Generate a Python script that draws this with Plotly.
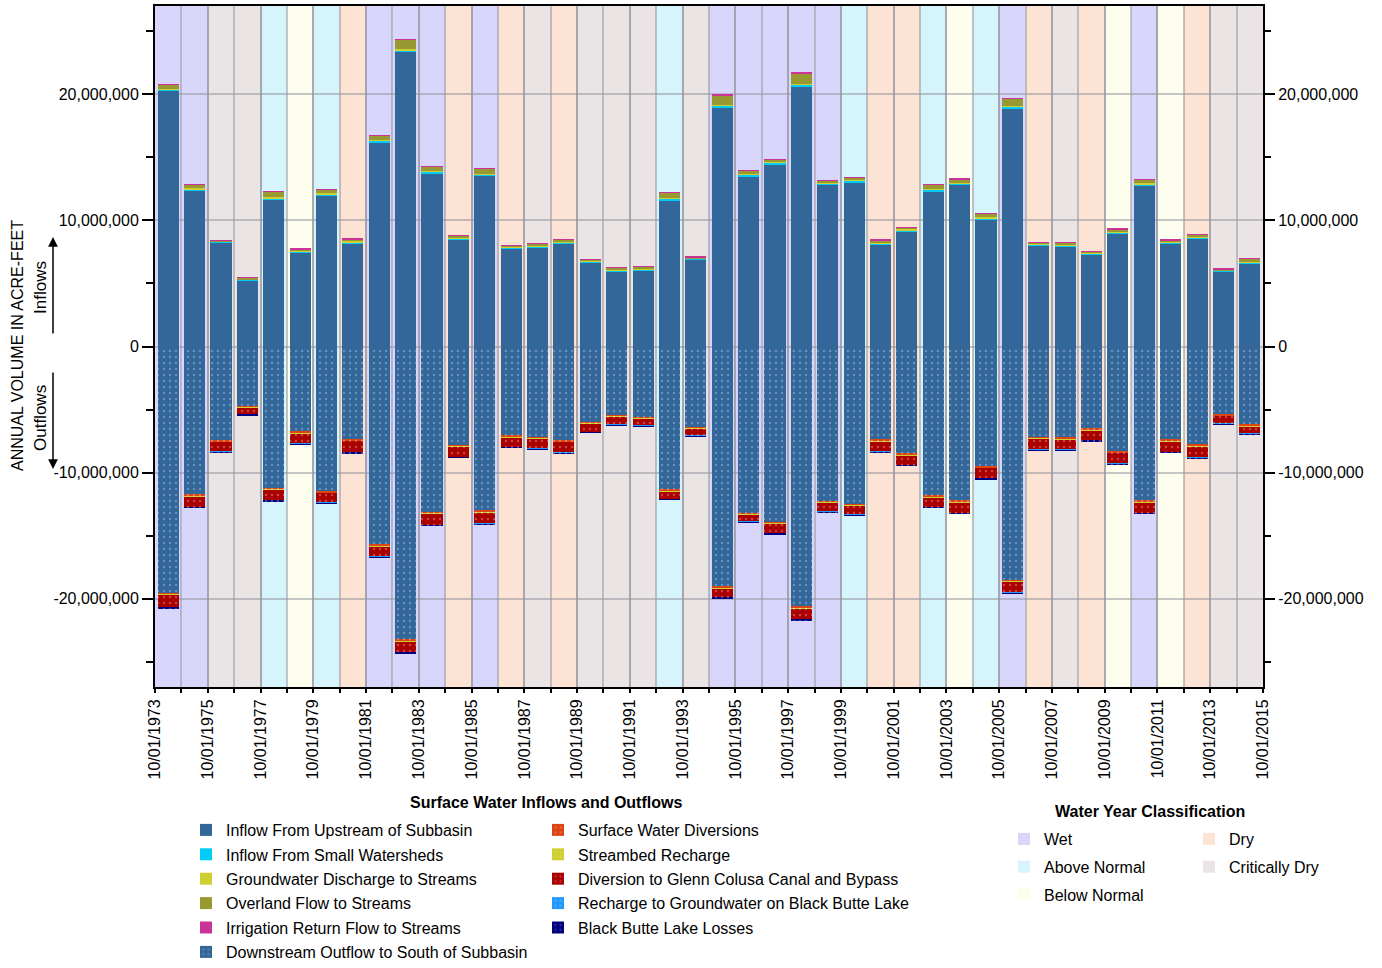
import plotly.graph_objects as go

# ---------------- data (million acre-feet) ----------------
years = list(range(1973, 2015))
classification = ["W", "W", "C", "C", "AN", "BN", "AN", "D", "W", "W", "W", "D", "W", "D", "C",
                  "D", "C", "C", "C", "AN", "C", "W", "W", "W", "W", "W", "AN", "D", "D", "AN",
                  "BN", "AN", "W", "D", "C", "D", "BN", "W", "BN", "D", "C", "C"]

inflow_upstream = [20.26, 12.38, 8.25, 5.24, 11.64, 7.46, 11.98, 8.20, 16.20, 23.36, 13.73, 8.52, 13.52, 7.80,
                   7.88, 8.20, 6.69, 5.98, 6.03, 11.59, 6.90, 18.94, 13.49, 14.44, 20.60, 12.86, 13.04, 8.06,
                   9.15, 12.30, 12.83, 10.05, 18.86, 8.02, 7.96, 7.27, 8.94, 12.75, 8.15, 8.57, 5.93, 6.56]
inflow_small_ws = [0.12, 0.10, 0.05, 0.05, 0.12, 0.08, 0.10, 0.08, 0.12, 0.15, 0.12, 0.08, 0.12, 0.06,
                   0.06, 0.07, 0.06, 0.06, 0.06, 0.12, 0.05, 0.15, 0.12, 0.12, 0.15, 0.10, 0.10, 0.08,
                   0.08, 0.12, 0.10, 0.12, 0.15, 0.06, 0.07, 0.07, 0.09, 0.12, 0.08, 0.08, 0.06, 0.10]
gw_discharge = [0.06, 0.06, 0.05, 0.05, 0.06, 0.05, 0.06, 0.05, 0.06, 0.06, 0.06, 0.05, 0.06, 0.05,
                0.05, 0.05, 0.05, 0.05, 0.05, 0.06, 0.05, 0.06, 0.06, 0.06, 0.06, 0.05, 0.05, 0.05,
                0.05, 0.06, 0.06, 0.06, 0.06, 0.05, 0.05, 0.05, 0.05, 0.06, 0.05, 0.05, 0.05, 0.06]
overland_flow = [0.31, 0.30, 0.08, 0.10, 0.44, 0.14, 0.30, 0.19, 0.35, 0.75, 0.33, 0.14, 0.38, 0.11,
                 0.14, 0.15, 0.11, 0.16, 0.22, 0.41, 0.09, 0.78, 0.28, 0.23, 0.87, 0.14, 0.23, 0.25,
                 0.17, 0.33, 0.29, 0.33, 0.57, 0.13, 0.18, 0.16, 0.23, 0.30, 0.16, 0.17, 0.10, 0.28]
irrigation_return = [0.015] * 42

outflow_downstream = [-19.58, -11.77, -7.46, -4.74, -11.24, -6.77, -11.50, -7.38, -15.71, -23.25, -13.15, -7.83,
                      -13.02, -7.09, -7.20, -7.46, -6.01, -5.45, -5.61, -11.35, -6.40, -19.05, -13.23, -13.94,
                      -20.63, -12.27, -12.49, -7.41, -8.52, -11.83, -12.22, -9.52, -18.52, -7.20, -7.25, -6.53,
                      -8.33, -12.22, -7.41, -7.80, -5.40, -6.22]
sw_diversions = [-0.12] * 42
streambed_recharge = [-0.03] * 42
gcc_diversion = [-0.98, -0.82, -0.74, -0.50, -0.82, -0.80, -0.75, -0.88, -0.83, -0.88, -0.87, -0.79, -0.90, -0.74,
                 -0.76, -0.82, -0.63, -0.61, -0.53, -0.61, -0.53, -0.71, -0.53, -0.72, -0.86, -0.69, -0.71, -0.79,
                 -0.74, -0.76, -0.85, -0.80, -0.87, -0.84, -0.79, -0.77, -0.83, -0.85, -0.82, -0.88, -0.58, -0.55]
bb_recharge = [-0.02] * 42
bb_losses = [-0.04] * 42

y_tick_values = [-20, -10, 0, 10, 20]
y_tick_labels = ["-20,000,000", "-10,000,000", "0", "10,000,000", "20,000,000"]
x_tick_labels = ["10/01/%d" % y for y in range(1973, 2016, 2)]

class_names = {"W": "Wet", "AN": "Above Normal", "BN": "Below Normal", "D": "Dry", "C": "Critically Dry"}
class_colors = {"W": "#d8d7fb", "AN": "#d6f4fb", "BN": "#fefeee", "D": "#fde3d3", "C": "#ebe4e4"}

# ---------------- figure ----------------
M = 1e6
xc = [i + 0.5 for i in range(len(years))]
FONT = "Liberation Sans, Arial, sans-serif"
TICKFONT = dict(family=FONT, size=16, color="black")
LEGFONT = dict(family=FONT, size=16, color="black")

# plot-area pixel geometry used to place legends/annotations
PL, PR, PT, PB = 155, 1263, 6, 687
def px(xp):
    return (xp - PL) / (PR - PL)
def py(yp):
    return (PB - yp) / (PB - PT)

fig = go.Figure()

def add_bar(name, vals, color, legend, dotted=False, dotcolor="rgba(255,255,255,0.55)"):
    kw = dict(x=xc, y=[v * M for v in vals], name=name, legend=legend, legendgroup=name, width=0.8,
              marker=dict(color=color, line=dict(width=0)))
    if dotted:
        kw["marker"]["pattern"] = dict(shape=".", fgcolor=dotcolor, size=6, solidity=0.12)
    fig.add_trace(go.Bar(**kw))

add_bar("Inflow From Upstream of Subbasin", inflow_upstream, "#336699", "legend")
add_bar("Inflow From Small Watersheds", inflow_small_ws, "#00ccf5", "legend")
add_bar("Groundwater Discharge to Streams", gw_discharge, "#cfcf33", "legend")
add_bar("Overland Flow to Streams", overland_flow, "#999933", "legend")
add_bar("Irrigation Return Flow to Streams", irrigation_return, "#cc3399", "legend")
add_bar("Downstream Outflow to South of Subbasin", outflow_downstream, "#336699", "legend", True,
        "rgba(200,220,255,0.7)")
add_bar("Surface Water Diversions", sw_diversions, "#dd4411", "legend2", True)
add_bar("Streambed Recharge", streambed_recharge, "#cfcf33", "legend2", True)
add_bar("Diversion to Glenn Colusa Canal and Bypass", gcc_diversion, "#aa0000", "legend2", True,
        "rgba(255,200,200,0.7)")
add_bar("Recharge to Groundwater on Black Butte Lake", bb_recharge, "#2299ff", "legend2", True)
add_bar("Black Butte Lake Losses", bb_losses, "#000080", "legend2", True)

# water-year classification legend entries
for k, lg in [("W", "legend3"), ("AN", "legend3"), ("BN", "legend3"), ("D", "legend4"), ("C", "legend4")]:
    fig.add_trace(go.Bar(x=[None], y=[None], name=class_names[k], legend=lg, legendgroup=k,
                         marker=dict(color=class_colors[k], line=dict(width=0))))

# invisible trace for right axis
fig.add_trace(go.Scatter(x=[None], y=[None], yaxis="y2", showlegend=False, hoverinfo="skip"))

# background bands
shapes = []
for i, c in enumerate(classification):
    shapes.append(dict(type="rect", xref="x", yref="paper", x0=i, x1=i + 1, y0=0, y1=1,
                       fillcolor=class_colors[c], line=dict(width=0), layer="below"))

GRID = "rgba(150,150,160,0.55)"
yt = [v * M for v in y_tick_values]
yaxis_common = dict(range=[-27 * M, 27 * M], tickmode="array", tickvals=yt, ticktext=y_tick_labels,
                    ticks="outside", ticklen=11, tickwidth=1.5, tickcolor="black",
                    tickfont=TICKFONT, zeroline=False, fixedrange=True, automargin=False,
                    minor=dict(tickmode="linear", tick0=0, dtick=5 * M, ticks="outside", ticklen=7,
                               tickwidth=1.5, tickcolor="black"))

def leg(x, ytop, gap):
    return dict(x=x, y=ytop, xanchor="left", yanchor="top", bgcolor="rgba(0,0,0,0)",
                font=LEGFONT, tracegroupgap=gap, itemwidth=30, itemclick=False, itemdoubleclick=False)

fig.update_layout(
    width=1382, height=968,
    margin=dict(l=PL, r=1382 - PR, t=PT, b=968 - PB, autoexpand=False),
    paper_bgcolor="white", plot_bgcolor="white",
    barmode="relative", bargap=0,
    shapes=shapes,
    xaxis=dict(range=[0, 42], tickmode="array", tickvals=list(range(0, 43, 2)), ticktext=x_tick_labels,
               tickangle=-90, ticks="outside", ticklen=4, tickwidth=1.5, tickcolor="black",
               tickfont=TICKFONT, showgrid=True, gridcolor=GRID, gridwidth=1.5,
               showline=True, linecolor="black", linewidth=2, mirror=True, zeroline=False,
               fixedrange=True, automargin=False,
               minor=dict(tickmode="linear", tick0=0, dtick=1, ticks="outside", ticklen=4,
                          tickwidth=1.5, tickcolor="black", showgrid=True, gridcolor=GRID, gridwidth=1.5)),
    yaxis=dict(**yaxis_common, showgrid=True, gridcolor=GRID, gridwidth=1.5,
               showline=True, linecolor="black", linewidth=2, mirror=True),
    yaxis2=dict(**yaxis_common, overlaying="y", side="right", anchor="x", showgrid=False,
                showline=False),
    legend=leg(px(186), py(813), 0.6),
    legend2=leg(px(538), py(813), 0.6),
    legend3=leg(px(1004), py(822), 4),
    legend4=leg(px(1189), py(822), 4),
    annotations=[
        dict(text="<b>Surface Water Inflows and Outflows</b>", xref="paper", yref="paper",
             x=px(546), y=py(802), xanchor="center", yanchor="middle", showarrow=False,
             font=dict(family=FONT, size=16, color="black")),
        dict(text="<b>Water Year Classification</b>", xref="paper", yref="paper",
             x=px(1150), y=py(811), xanchor="center", yanchor="middle", showarrow=False,
             font=dict(family=FONT, size=16, color="black")),
        dict(text="ANNUAL VOLUME IN ACRE-FEET", xref="paper", yref="paper", x=px(17), y=py(346),
             xanchor="center", yanchor="middle", textangle=-90, showarrow=False,
             font=dict(family=FONT, size=16, color="black")),
        dict(text="Inflows", xref="paper", yref="paper", x=px(40), y=py(288),
             xanchor="center", yanchor="middle", textangle=-90, showarrow=False,
             font=dict(family=FONT, size=17, color="black")),
        dict(text="Outflows", xref="paper", yref="paper", x=px(40), y=py(418),
             xanchor="center", yanchor="middle", textangle=-90, showarrow=False,
             font=dict(family=FONT, size=17, color="black")),
        dict(text="", xref="paper", yref="paper", x=px(53), y=py(237),
             ax=0, ay=98, showarrow=True, arrowhead=2, arrowsize=1.3, arrowwidth=1.5, arrowcolor="black"),
        dict(text="", xref="paper", yref="paper", x=px(53), y=py(469),
             ax=0, ay=-98, showarrow=True, arrowhead=2, arrowsize=1.3, arrowwidth=1.5, arrowcolor="black"),
    ],
)

fig.write_html("out.html", config={"displayModeBar": False},
               post_script="document.body.style.margin='0px';")
